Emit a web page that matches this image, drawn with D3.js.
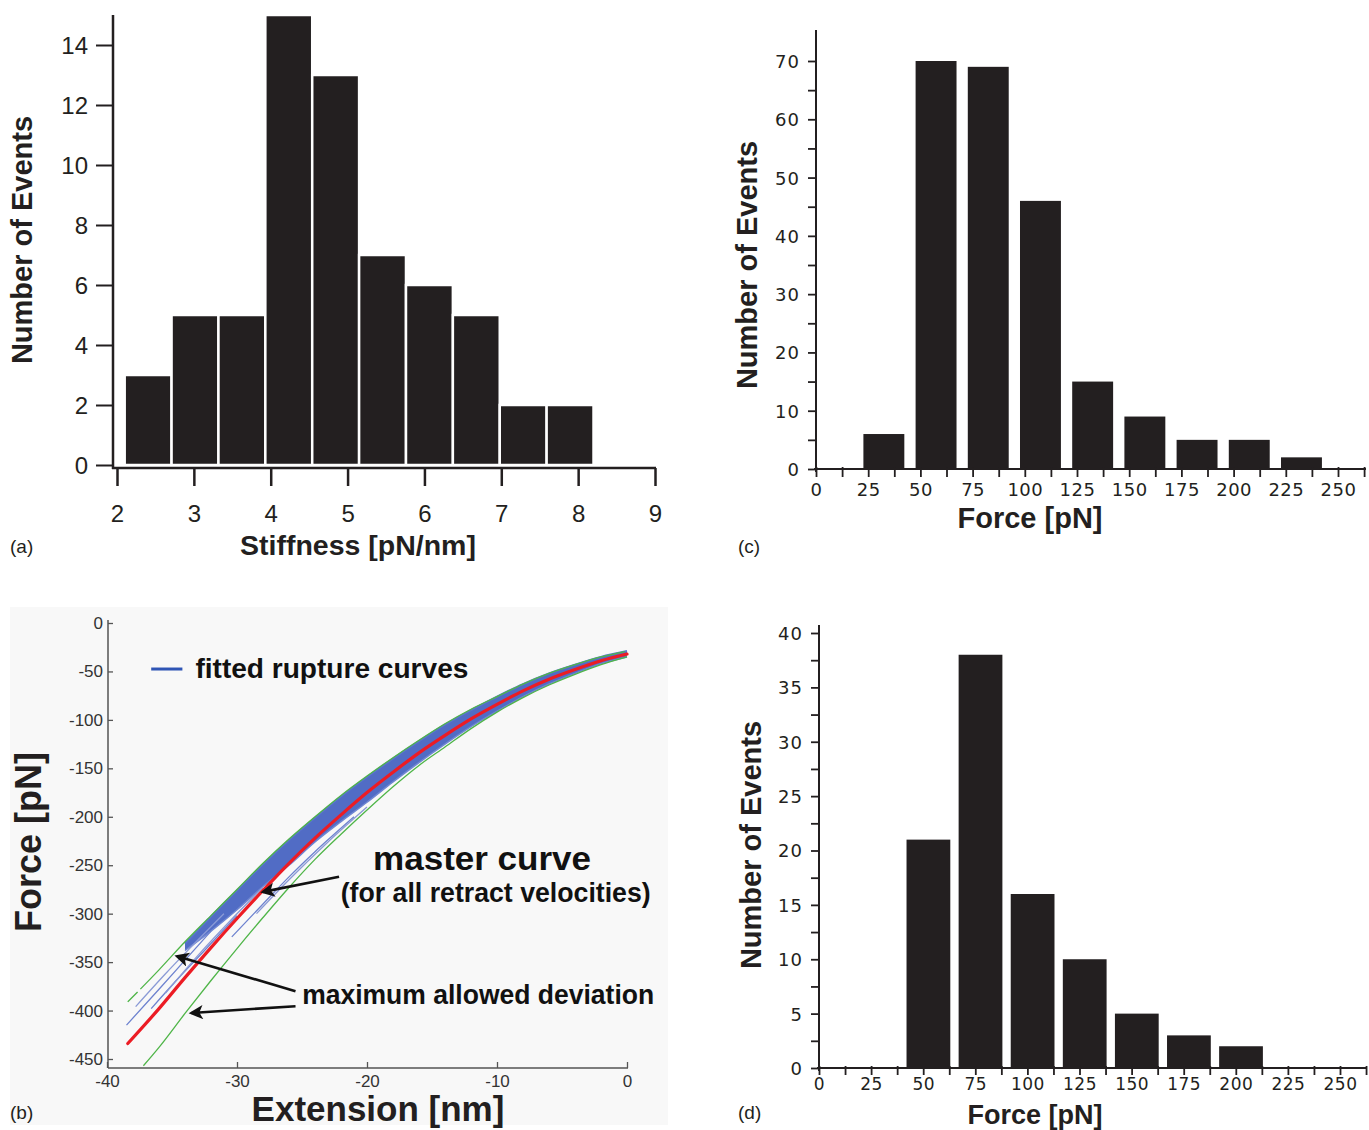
<!DOCTYPE html>
<html lang="en">
<head>
<meta charset="UTF-8">
<title>Rupture force figure</title>
<style>
  body { margin: 0; background: #fff; }
  svg { display: block; }
</style>
</head>
<body>
<script src="https://cdn.jsdelivr.net/npm/d3@7"></script>
<script>

// ---- (a) stiffness histogram ----
var stiffnessEdges = [2.1, 2.71, 3.32, 3.93, 4.54, 5.15, 5.76, 6.37, 6.98, 7.59, 8.2];
var stiffnessCounts = [3, 5, 5, 15, 13, 7, 6, 5, 2, 2];
var stiffnessXTicks = [2, 3, 4, 5, 6, 7, 8, 9];
var stiffnessYTicks = [0, 2, 4, 6, 8, 10, 12, 14];

// ---- (c) rupture force histogram ----
var forceCentersC = [32.5, 57.5, 82.5, 107.5, 132.5, 157.5, 182.5, 207.5, 232.5];
var forceCountsC = [6, 70, 69, 46, 15, 9, 5, 5, 2];

// ---- (d) rupture force histogram ----
var forceCentersD = [52.5, 77.5, 102.5, 127.5, 152.5, 177.5, 202.5];
var forceCountsD = [21, 38, 16, 10, 5, 3, 2];

var forceTickLabels = [0, 25, 50, 75, 100, 125, 150, 175, 200, 225, 250];

// ---- (b) force-extension curves ----
var extensionX = [-38.4, -36, -34, -32, -30, -28, -26, -24, -22, -20, -18, -16, -14, -12, -10, -8, -6, -4, -2, 0];
var masterF    = [-434, -398, -366, -335, -305, -276, -248, -222, -198, -175, -154, -134, -116, -99, -84, -70, -58, -48, -39, -32];
var upperF     = [-391, -358, -329, -302, -275, -248, -223, -200, -178, -158, -139, -121, -104, -89, -76, -63, -52, -43, -35, -29];
var lowerX     = [-37.2, -36, -34, -32, -30, -28, -26, -24, -22, -20, -18, -16, -14, -12, -10, -8, -6, -4, -2, 0];
var lowerF     = [-457, -438, -403, -369, -336, -304, -273, -244, -218, -193, -169, -147, -128, -109, -92, -77, -64, -53, -43, -35];

// dense part of the fitted rupture curves
var bandX      = [-34, -32, -30, -28, -26, -24, -22, -20, -18, -16, -14, -12, -10, -8, -6, -4, -2, 0];
var bandTopF   = [-331, -303, -276, -249, -224, -201, -179, -159, -140, -122, -105, -90, -76, -63, -52, -43, -35, -29];
var bandBotF   = [-338, -318, -296, -272, -250, -226, -205, -185, -164, -144, -125, -107, -91, -76, -63, -52, -42, -35];

// single fitted curves visible outside the dense part
var strayCurves = [
  { x: [-38.5, -36, -34, -32], f: [-415, -378, -348, -318] },
  { x: [-37.8, -35.5, -33.5, -31], f: [-396, -362, -334, -300] },
  { x: [-36.6, -34.6, -32.5, -30], f: [-398, -368, -338, -302] },
  { x: [-35.5, -33, -30.5, -28], f: [-382, -343, -307, -273] },
  { x: [-30.4, -28, -26, -24, -21], f: [-324, -290, -262, -236, -200] },
  { x: [-28.5, -26, -23, -20], f: [-300, -265, -226, -190] }
];

var forceTicksB = [0, -50, -100, -150, -200, -250, -300, -350, -400, -450];
var extTicksB = [-40, -30, -20, -10, 0];

var ink = "#231f20";

var svg = d3.select("body").append("svg")
  .attr("width", 1369)
  .attr("height", 1130)
  .style("font-family", "'Liberation Sans', Arial, sans-serif");

svg.append("rect").attr("width", 1369).attr("height", 1130).attr("fill", "#fff");

var defs = svg.append("defs");
defs.append("marker").attr("id", "arrowHead")
  .attr("viewBox", "0 0 10 10").attr("refX", 8).attr("refY", 5)
  .attr("markerWidth", 7).attr("markerHeight", 5.5).attr("orient", "auto")
  .attr("markerUnits", "strokeWidth")
  .append("path").attr("d", "M0,0 L10,5 L0,10 L2.5,5 Z").attr("fill", "#111");

function styleAxis(g, size, family, color, width) {
  g.select(".domain").remove();
  g.selectAll(".tick line").attr("stroke", color).attr("stroke-width", width);
  g.selectAll(".tick text")
    .attr("fill", color)
    .style("font-size", size + "px")
    .style("font-family", family);
}

function rotatedTitle(x, y, txt, size) {
  svg.append("text")
    .attr("transform", "translate(" + x + "," + y + ") rotate(-90)")
    .attr("text-anchor", "middle")
    .attr("fill", ink)
    .style("font-size", size + "px")
    .style("font-weight", "bold")
    .text(txt);
}

function plainText(x, y, txt, size, anchor, weight) {
  return svg.append("text")
    .attr("x", x).attr("y", y)
    .attr("text-anchor", anchor || "start")
    .attr("fill", ink)
    .style("font-size", size + "px")
    .style("font-weight", weight || "normal")
    .text(txt);
}

/* ---------------- panel (a) ---------------- */
(function () {
  var x = d3.scaleLinear().domain([2, 9]).range([117, 655]);
  var y = d3.scaleLinear().domain([0, 14]).range([465, 45]);
  var g = svg.append("g");

  g.selectAll("rect.bar")
    .data(stiffnessCounts)
    .enter().append("rect")
    .attr("class", "bar")
    .attr("x", function (d, i) { return x(stiffnessEdges[i]); })
    .attr("width", function (d, i) { return x(stiffnessEdges[i + 1]) - x(stiffnessEdges[i]); })
    .attr("y", function (d) { return y(d); })
    .attr("height", function (d) { return y(0) - y(d); })
    .attr("fill", ink)
    .attr("stroke", "#fff")
    .attr("stroke-width", 2.5);

  var ya = g.append("g").attr("transform", "translate(113,0)")
    .call(d3.axisLeft(y).tickValues(stiffnessYTicks).tickSize(17).tickPadding(8)
      .tickFormat(d3.format("d")));
  styleAxis(ya, 24, "'Liberation Sans', Arial, sans-serif", ink, 2);
  ya.selectAll(".tick text").attr("dy", "0.36em");

  var xa = g.append("g").attr("transform", "translate(0,468)")
    .call(d3.axisBottom(x).tickValues(stiffnessXTicks).tickSize(18).tickPadding(19)
      .tickFormat(d3.format("d")));
  styleAxis(xa, 24, "'Liberation Sans', Arial, sans-serif", ink, 2.5);

  g.append("line").attr("x1", 113).attr("x2", 113).attr("y1", 15).attr("y2", 469)
    .attr("stroke", ink).attr("stroke-width", 2.5);
  g.append("line").attr("x1", 112).attr("x2", 656).attr("y1", 468).attr("y2", 468)
    .attr("stroke", ink).attr("stroke-width", 2.5);

  rotatedTitle(32, 240, "Number of Events", 29);
  plainText(358, 555, "Stiffness [pN/nm]", 28.5, "middle", "bold");
  plainText(10, 553, "(a)", 19);
})();

/* ---------------- panels (c) and (d) ---------------- */
function forceHist(cfg) {
  var x = d3.scaleLinear().domain([0, 250]).range(cfg.xRange);
  var y = d3.scaleLinear().domain([0, cfg.yMax]).range(cfg.yRange);
  var g = svg.append("g");
  var x0 = cfg.xRange[0], y0 = cfg.yRange[0];
  var fam = "'DejaVu Sans', Verdana, sans-serif";

  g.selectAll("rect.bar")
    .data(cfg.counts)
    .enter().append("rect")
    .attr("class", "bar")
    .attr("x", function (d, i) { return x(cfg.centers[i] - cfg.barW / 2); })
    .attr("width", x(cfg.barW) - x(0))
    .attr("y", function (d) { return y(d); })
    .attr("height", function (d) { return y(0) - y(d); })
    .attr("fill", ink);

  var ya = g.append("g").attr("transform", "translate(" + x0 + ",0)")
    .call(d3.axisLeft(y)
      .tickValues(d3.range(0, cfg.yMax + 0.01, cfg.minorY))
      .tickFormat(function (d) { return d % cfg.majorY === 0 ? d : ""; })
      .tickSize(8).tickPadding(8));
  styleAxis(ya, 18, fam, ink, 1.8);
  ya.selectAll(".tick text").attr("dy", "0.36em").style("letter-spacing", "1px");

  var xa = g.append("g").attr("transform", "translate(0," + y0 + ")")
    .call(d3.axisBottom(x)
      .tickValues(d3.range(0, 262.6, 12.5))
      .tickFormat(function (d) { return forceTickLabels.indexOf(d) >= 0 ? d : ""; })
      .tickSize(cfg.xTick).tickPadding(cfg.xPad));
  styleAxis(xa, cfg.xFont, fam, ink, 1.8);
  xa.selectAll(".tick text").style("letter-spacing", "0.5px");
  xa.selectAll(".tick line").attr("y1", -2);

  g.append("line").attr("x1", x0).attr("x2", x0).attr("y1", cfg.axisTop).attr("y2", y0 + 3)
    .attr("stroke", ink).attr("stroke-width", 2);
  g.append("line").attr("x1", x0 - 2).attr("x2", 1366).attr("y1", y0).attr("y2", y0)
    .attr("stroke", ink).attr("stroke-width", 2);

  rotatedTitle(cfg.yTitle[0], cfg.yTitle[1], "Number of Events", 29);
  plainText(cfg.xTitle[0], cfg.xTitle[1], "Force [pN]", cfg.titleSize, "middle", "bold");
  plainText(738, cfg.tagY, cfg.tag, 19);
}

forceHist({
  counts: forceCountsC, centers: forceCentersC, barW: 19.6,
  xRange: [816, 1338], yRange: [469, 61], yMax: 70, axisTop: 30,
  minorY: 5, majorY: 10, xTick: 8, xPad: 6, xFont: 18, titleSize: 29,
  yTitle: [757, 265], xTitle: [1030, 528], tag: "(c)", tagY: 553
});

forceHist({
  counts: forceCountsD, centers: forceCentersD, barW: 21,
  xRange: [819, 1340], yRange: [1068, 633], yMax: 40, axisTop: 625,
  minorY: 2.5, majorY: 5, xTick: 7, xPad: 3, xFont: 17, titleSize: 27,
  yTitle: [761, 845], xTitle: [1035, 1124], tag: "(d)", tagY: 1119
});

/* ---------------- panel (b) ---------------- */
(function () {
  var x = d3.scaleLinear().domain([-40, 0]).range([107, 627]);
  var y = d3.scaleLinear().domain([0, -450]).range([623, 1059]);
  var g = svg.append("g");
  var gray = "#555";
  var fam = "'Liberation Sans', Arial, sans-serif";

  g.append("rect").attr("x", 10).attr("y", 607).attr("width", 658).attr("height", 518)
    .attr("fill", "#f8f8f8");

  svg.append("clipPath").attr("id", "plotB").append("rect")
    .attr("x", 108).attr("y", 600).attr("width", 540).attr("height", 468);

  var plot = g.append("g").attr("clip-path", "url(#plotB)");

  function pts(xs, fs) { return xs.map(function (v, i) { return [v, fs[i]]; }); }
  var line = d3.line().x(function (d) { return x(d[0]); }).y(function (d) { return y(d[1]); })
    .curve(d3.curveMonotoneX);

  // dense band of fitted curves
  var band = d3.area()
    .x(function (d, i) { return x(bandX[i]); })
    .y0(function (d, i) { return y(bandBotF[i]); })
    .y1(function (d, i) { return y(bandTopF[i]); })
    .curve(d3.curveMonotoneX);
  plot.append("path").datum(bandX).attr("d", band)
    .attr("fill", "#3e5cbf").attr("fill-opacity", 0.9);

  // band texture
  plot.append("path").datum(pts(bandX, bandTopF)).attr("d", line)
    .attr("fill", "none").attr("stroke", "#5a74cc").attr("stroke-width", 2);
  plot.append("path").datum(pts(bandX, bandBotF)).attr("d", line)
    .attr("fill", "none").attr("stroke", "#6f86d2").attr("stroke-width", 1.5);

  strayCurves.forEach(function (c, i) {
    plot.append("path").datum(pts(c.x, c.f)).attr("d", line)
      .attr("fill", "none")
      .attr("stroke", i % 2 ? "#8a9ad6" : "#6d82cf")
      .attr("stroke-width", 1.3);
  });

  // maximum allowed deviation
  plot.append("path").datum(pts(extensionX, upperF)).attr("d", line)
    .attr("fill", "none").attr("stroke", "#4fb548").attr("stroke-width", 1.3)
    .attr("stroke-dasharray", "14,4,600");
  plot.append("path").datum(pts(lowerX, lowerF)).attr("d", line)
    .attr("fill", "none").attr("stroke", "#4fb548").attr("stroke-width", 1.3);

  // master curve
  plot.append("path").datum(pts(extensionX, masterF)).attr("d", line)
    .attr("fill", "none").attr("stroke", "#ec1c24").attr("stroke-width", 3.2)
    .attr("stroke-linecap", "round");

  // axes
  var ya = g.append("g").attr("transform", "translate(108,0)")
    .call(d3.axisLeft(y).tickValues(forceTicksB).tickSize(-5).tickPadding(5)
      .tickFormat(function (d) { return String(d); }));
  styleAxis(ya, 17, fam, "#333", 1.3);
  ya.selectAll(".tick line").attr("stroke", gray);

  var xa = g.append("g").attr("transform", "translate(0,1068)")
    .call(d3.axisBottom(x).tickValues(extTicksB).tickSize(-6).tickPadding(7)
      .tickFormat(function (d) { return String(d); }));
  styleAxis(xa, 17, fam, "#333", 1.3);
  xa.selectAll(".tick line").attr("stroke", gray);

  g.append("line").attr("x1", 108).attr("x2", 108).attr("y1", 620).attr("y2", 1068)
    .attr("stroke", gray).attr("stroke-width", 1.5);
  g.append("line").attr("x1", 108).attr("x2", 628).attr("y1", 1068).attr("y2", 1068)
    .attr("stroke", gray).attr("stroke-width", 1.5);

  // legend
  g.append("line").attr("x1", x(-36.6)).attr("x2", x(-34.2))
    .attr("y1", y(-47.5)).attr("y2", y(-47.5))
    .attr("stroke", "#2f55b5").attr("stroke-width", 3);
  plainText(x(-33.2), y(-57), "fitted rupture curves", 27, "start", "bold")
    .attr("textLength", 273).attr("lengthAdjust", "spacingAndGlyphs").attr("fill", "#111");

  // annotations
  plainText(x(-11.15), y(-255), "master curve", 34, "middle", "bold")
    .attr("textLength", 218).attr("lengthAdjust", "spacingAndGlyphs").attr("fill", "#111");
  plainText(x(-10.1), y(-288), "(for all retract velocities)", 27, "middle", "bold")
    .attr("textLength", 310).attr("lengthAdjust", "spacingAndGlyphs").attr("fill", "#111");
  plainText(x(-11.45), y(-393), "maximum allowed deviation", 27, "middle", "bold")
    .attr("textLength", 352).attr("lengthAdjust", "spacingAndGlyphs").attr("fill", "#111");

  // arrows: tail -> tip, in data coordinates
  var arrows = [
    [[-22.15, -262], [-28.0, -277.5]],
    [[-25.5, -380], [-34.6, -344]],
    [[-25.5, -395.5], [-33.5, -402.5]]
  ];
  arrows.forEach(function (a) {
    g.append("line")
      .attr("x1", x(a[0][0])).attr("y1", y(a[0][1]))
      .attr("x2", x(a[1][0])).attr("y2", y(a[1][1]))
      .attr("stroke", "#111").attr("stroke-width", 2.6)
      .attr("marker-end", "url(#arrowHead)");
  });

  rotatedTitle(41, 842, "Force [pN]", 36);
  plainText(378, 1121, "Extension [nm]", 35, "middle", "bold");
  plainText(10, 1119, "(b)", 19);
})();

</script>
</body>
</html>
